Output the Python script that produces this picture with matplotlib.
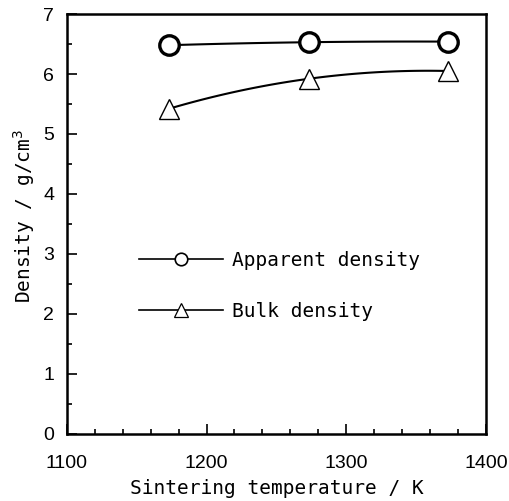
import numpy as np
import matplotlib.pyplot as plt
from matplotlib.lines import Line2D
from matplotlib.ticker import MultipleLocator

temperature = [1173, 1273, 1373]
apparent_density = [6.48, 6.53, 6.54]
bulk_density = [5.42, 5.92, 6.05]

label_font = 'DejaVu Sans Mono'
tick_font = 'Liberation Sans'


def smooth(x, y):
    # quadratic through the three points, just for drawing the curve
    c = np.polyfit(x, y, 2)
    xs = np.linspace(x[0], x[-1], 100)
    return xs, np.polyval(c, xs)


def main():
    fig = plt.figure(figsize=(5.1, 5.01), dpi=100)
    ax = fig.add_axes([0.131, 0.134, 0.822, 0.838])

    xs, ys = smooth(temperature, apparent_density)
    ax.plot(xs, ys, color='black', lw=1.5, zorder=2)
    ax.plot(temperature, apparent_density, 'o', ms=14, mfc='white', mec='black', mew=2.4, zorder=3)

    xs, ys = smooth(temperature, bulk_density)
    ax.plot(xs, ys, color='black', lw=1.5, zorder=2)
    ax.plot(temperature, bulk_density, '^', ms=15, mfc='white', mec='black', mew=1.0, zorder=3)

    ax.set_xlim(1100, 1400)
    ax.set_ylim(0, 7)
    ax.xaxis.set_major_locator(MultipleLocator(100))
    ax.xaxis.set_minor_locator(MultipleLocator(20))
    ax.yaxis.set_major_locator(MultipleLocator(1))
    ax.yaxis.set_minor_locator(MultipleLocator(0.5))
    ax.tick_params(which='both', direction='in', width=1.2, top=False, right=False)
    ax.tick_params(which='major', length=7, labelsize=14)
    ax.tick_params(which='minor', length=3.5)
    ax.tick_params(axis='x', which='major', pad=15)
    ax.tick_params(axis='y', which='major', pad=9)
    for lab in ax.get_xticklabels() + ax.get_yticklabels():
        lab.set_fontfamily(tick_font)
    for s in ax.spines.values():
        s.set_linewidth(1.8)

    ax.set_xlabel('Sintering temperature / K', fontfamily=label_font, fontsize=14, labelpad=5)
    ax.set_ylabel('Density / g/cm$^3$', fontfamily=label_font, fontsize=14)
    ax.yaxis.set_label_coords(-0.072, 0.52)

    handles = [
        Line2D([], [], color='black', lw=1.2, marker='o', ms=9, mfc='white', mec='black', mew=1.2),
        Line2D([], [], color='black', lw=1.2, marker='^', ms=10, mfc='white', mec='black', mew=0.9),
    ]
    ax.legend(handles, ['Apparent density', 'Bulk density'], frameon=False,
              loc='upper left', bbox_to_anchor=(0.2725, 0.500), bbox_transform=fig.transFigure,
              borderpad=0, borderaxespad=0, handlelength=4.3, handletextpad=0.5,
              labelspacing=1.65, prop={'family': label_font, 'size': 14})

    plt.savefig('out.png')


if __name__ == '__main__':
    main()
